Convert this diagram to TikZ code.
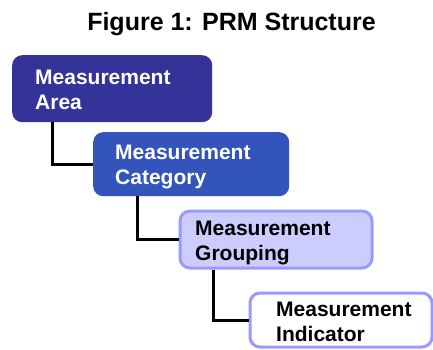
\documentclass[tikz,border=0pt]{standalone}
\usepackage{fontspec}
\setmainfont{Liberation Sans}
\definecolor{areablue}{HTML}{333399}
\definecolor{catblue}{HTML}{3355BB}
\definecolor{grpfill}{HTML}{CCCCFF}
\definecolor{lavedge}{HTML}{9999FF}
\tikzset{
  boxbase/.style={rounded corners=10pt, inner sep=0pt, anchor=north west},
  lbl/.style={anchor=north west, inner sep=0pt, align=left,
    font=\fontsize{21}{24.5}\selectfont\bfseries},
  conn/.style={line width=3pt, black},
}
\begin{document}
\begin{tikzpicture}[x=1pt,y=-1pt]
\useasboundingbox (0,0) rectangle (433,350);
\node[anchor=base, inner sep=0pt, font=\fontsize{25}{30}\selectfont\bfseries] (title) at (231.5,31) {Figure 1: PRM Structure};
% boxes
\node[boxbase, fill=areablue, minimum width=200pt, minimum height=67pt] (b1) at (12,55) {};
\node[boxbase, fill=catblue, minimum width=196pt, minimum height=64pt] (b2) at (93,132) {};
\node[boxbase, fill=grpfill, draw=lavedge, line width=3pt, minimum width=192pt, minimum height=57pt] (b3) at (178.5,209.5) {};
\node[boxbase, fill=white, draw=lavedge, line width=3pt, minimum width=182pt, minimum height=54pt] (b4) at (248.5,291.5) {};
% connectors
\draw[conn] ([xshift=40pt]b1.south west) |- (b2.west);
\draw[conn] ([xshift=44pt]b2.south west) |- (b3.west);
\draw[conn] ([xshift=34.5pt]b3.south west) |- (b4.west);
% labels
\node[lbl, text=white] (t1) at (35,70) {Measurement\\Area};
\node[lbl, text=white] (t2) at (115,145) {Measurement\\Category};
\node[lbl, text=black] (t3) at (195,221) {Measurement\\Grouping};
\node[lbl, text=black] (t4) at (276,302) {Measurement\\Indicator};
\end{tikzpicture}
\end{document}
